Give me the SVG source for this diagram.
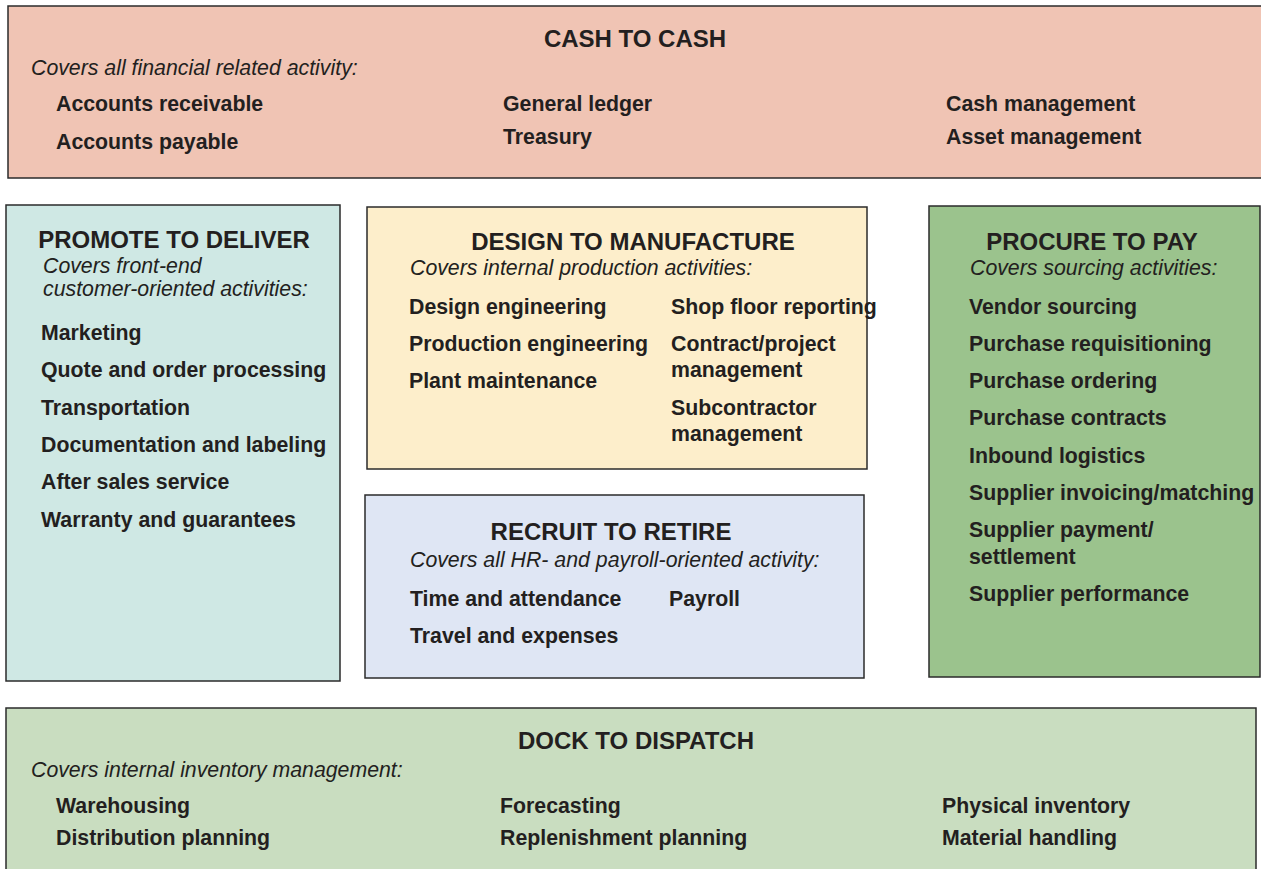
<svg xmlns="http://www.w3.org/2000/svg" width="1261" height="869" viewBox="0 0 1261 869">
<style>
.box{stroke:#2b2b2b;stroke-width:1.5}
.t{font-family:"Liberation Sans",Arial,sans-serif;font-weight:bold;font-size:24px;fill:#231f20;text-anchor:middle}
.i{font-family:"Liberation Sans",Arial,sans-serif;font-style:italic;font-size:21.3px;fill:#231f20}
.b{font-family:"Liberation Sans",Arial,sans-serif;font-weight:bold;font-size:21.3px;fill:#231f20}
</style>
<rect width="1261" height="869" fill="#ffffff"/>
<g id="cash-to-cash">
<rect class="box" x="8" y="6" width="1260" height="172" fill="#f0c4b4"/>
<text class="t" x="635" y="47">CASH TO CASH</text>
<text class="i" x="31" y="75">Covers all financial related activity:</text>
<text class="b" x="56" y="111">Accounts receivable</text>
<text class="b" x="56" y="149">Accounts payable</text>
<text class="b" x="503" y="111">General ledger</text>
<text class="b" x="503" y="144">Treasury</text>
<text class="b" x="946" y="111">Cash management</text>
<text class="b" x="946" y="144">Asset management</text>
</g>
<g id="promote-to-deliver">
<rect class="box" x="6" y="205" width="334" height="476" fill="#cfe8e4"/>
<text class="t" x="174" y="248">PROMOTE TO DELIVER</text>
<text class="i" x="43" y="273">Covers front-end</text>
<text class="i" x="43" y="296">customer-oriented activities:</text>
<text class="b" x="41" y="340">Marketing</text>
<text class="b" x="41" y="377">Quote and order processing</text>
<text class="b" x="41" y="415">Transportation</text>
<text class="b" x="41" y="452">Documentation and labeling</text>
<text class="b" x="41" y="489">After sales service</text>
<text class="b" x="41" y="527">Warranty and guarantees</text>
</g>
<g id="design-to-manufacture">
<rect class="box" x="367" y="207" width="500" height="262" fill="#fdeecb"/>
<text class="t" x="633" y="250">DESIGN TO MANUFACTURE</text>
<text class="i" x="410" y="275">Covers internal production activities:</text>
<text class="b" x="409" y="314">Design engineering</text>
<text class="b" x="409" y="351">Production engineering</text>
<text class="b" x="409" y="388">Plant maintenance</text>
<text class="b" x="671" y="314">Shop floor reporting</text>
<text class="b" x="671" y="351">Contract/project</text>
<text class="b" x="671" y="377">management</text>
<text class="b" x="671" y="415">Subcontractor</text>
<text class="b" x="671" y="441">management</text>
</g>
<g id="procure-to-pay">
<rect class="box" x="929" y="206" width="331" height="471" fill="#9bc38d"/>
<text class="t" x="1092" y="250">PROCURE TO PAY</text>
<text class="i" x="970" y="275">Covers sourcing activities:</text>
<text class="b" x="969" y="314">Vendor sourcing</text>
<text class="b" x="969" y="351">Purchase requisitioning</text>
<text class="b" x="969" y="388">Purchase ordering</text>
<text class="b" x="969" y="425">Purchase contracts</text>
<text class="b" x="969" y="463">Inbound logistics</text>
<text class="b" x="969" y="500">Supplier invoicing/matching</text>
<text class="b" x="969" y="537">Supplier payment/</text>
<text class="b" x="969" y="564">settlement</text>
<text class="b" x="969" y="601">Supplier performance</text>
</g>
<g id="recruit-to-retire">
<rect class="box" x="365" y="495" width="499" height="183" fill="#dfe6f4"/>
<text class="t" x="611" y="540">RECRUIT TO RETIRE</text>
<text class="i" x="410" y="567">Covers all HR- and payroll-oriented activity:</text>
<text class="b" x="410" y="606">Time and attendance</text>
<text class="b" x="669" y="606">Payroll</text>
<text class="b" x="410" y="643">Travel and expenses</text>
</g>
<g id="dock-to-dispatch">
<rect class="box" x="6" y="708" width="1250" height="180" fill="#c9ddc0"/>
<text class="t" x="636" y="749">DOCK TO DISPATCH</text>
<text class="i" x="31" y="777">Covers internal inventory management:</text>
<text class="b" x="56" y="813">Warehousing</text>
<text class="b" x="56" y="845">Distribution planning</text>
<text class="b" x="500" y="813">Forecasting</text>
<text class="b" x="500" y="845">Replenishment planning</text>
<text class="b" x="942" y="813">Physical inventory</text>
<text class="b" x="942" y="845">Material handling</text>
</g>
<g id="connectors"/>
</svg>
